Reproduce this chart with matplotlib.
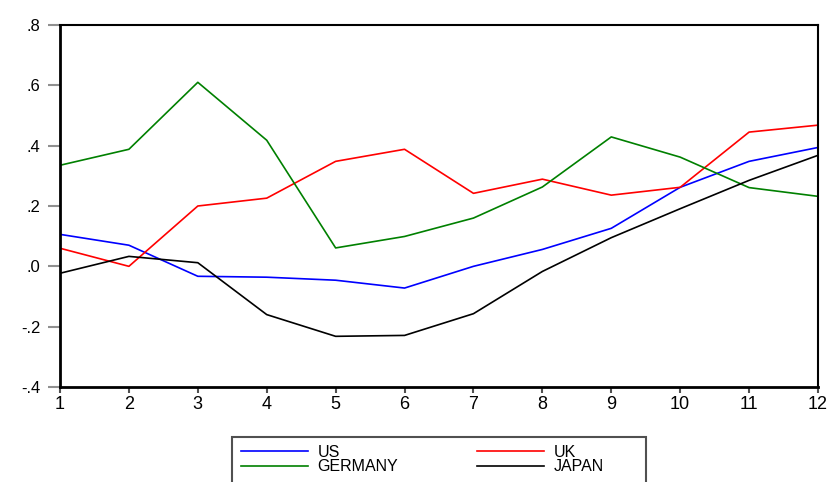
import numpy as np
import matplotlib.pyplot as plt
from matplotlib.patches import Rectangle

plt.rcParams['font.family'] = ['Liberation Sans', 'DejaVu Sans']

# horizon 1..12
horizon = list(range(1, 13))

us = [0.106, 0.070, -0.033, -0.036, -0.046, -0.072, 0.000, 0.056, 0.126, 0.262, 0.348, 0.394]
uk = [0.060, 0.000, 0.200, 0.226, 0.348, 0.388, 0.242, 0.289, 0.236, 0.262, 0.445, 0.468]
germany = [0.335, 0.388, 0.610, 0.418, 0.061, 0.099, 0.160, 0.263, 0.429, 0.362, 0.261, 0.232]
japan = [-0.023, 0.033, 0.012, -0.160, -0.232, -0.229, -0.157, -0.017, 0.095, 0.191, 0.285, 0.368]

yticks = [-0.4, -0.2, 0.0, 0.2, 0.4, 0.6, 0.8]
ytick_labels = ['-.4', '-.2', '.0', '.2', '.4', '.6', '.8']

W, H = 832, 482
fig = plt.figure(figsize=(W / 100, H / 100), dpi=100)
ax = fig.add_axes([60 / W, 1 - 387 / H, 758 / W, 362 / H])

l_us, = ax.plot(horizon, us, color='#0000ff', lw=1.2, label='US')
l_uk, = ax.plot(horizon, uk, color='#ff0000', lw=1.2, label='UK')
l_ge, = ax.plot(horizon, germany, color='#008000', lw=1.2, label='GERMANY')
l_jp, = ax.plot(horizon, japan, color='#000000', lw=1.2, label='JAPAN')

ax.set_xlim(1, 12)
ax.set_ylim(-0.4, 0.8)
ax.set_xticks(horizon)
ax.set_xticklabels([str(h) for h in horizon])
ax.set_yticks(yticks)
ax.set_yticklabels(ytick_labels)

ax.tick_params(axis='y', direction='out', length=8.6, width=1.5, color='#909090',
               labelsize=12, pad=5.5)
ax.tick_params(axis='x', direction='out', length=4, width=1.5, color='#505050',
               labelsize=13, pad=2.5)

for side in ['left', 'bottom']:
    ax.spines[side].set_linewidth(2)
for side in ['top', 'right']:
    ax.spines[side].set_linewidth(1.5)

# legend box runs off the bottom edge
fig.patches.append(Rectangle((232 / W, 1 - 495 / H), 414 / W, 58 / H,
                             transform=fig.transFigure, fill=False,
                             edgecolor='#505050', linewidth=1.5))

# order so the rows read US, UK / GERMANY, JAPAN
leg = fig.legend([l_us, l_ge, l_uk, l_jp], ['US', 'GERMANY', 'UK', 'JAPAN'],
                 loc='upper left', bbox_to_anchor=(241 / W, 1 - 445 / H),
                 ncol=2, fontsize=11.5, handlelength=4.2, handletextpad=0.6,
                 columnspacing=4.9, labelspacing=-0.05, borderpad=0,
                 frameon=False, borderaxespad=0)

fig.savefig('out.png', dpi=100)
